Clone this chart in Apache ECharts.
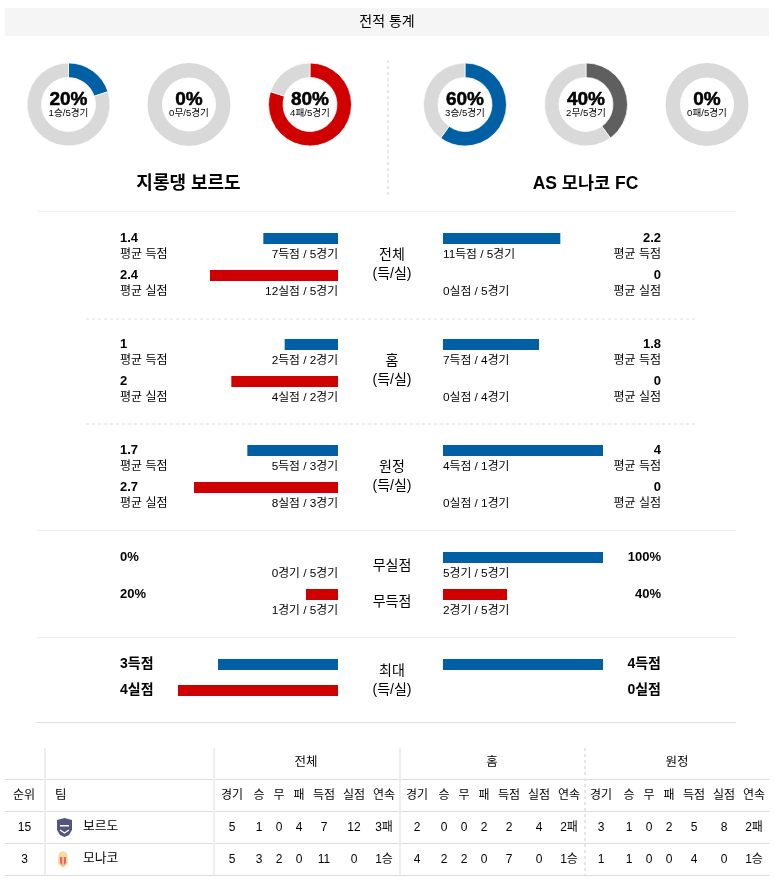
<!DOCTYPE html>
<html lang="ko">
<head>
<meta charset="utf-8">
<style>html,body{margin:0;padding:0;background:#fff}#c{width:778px;height:886px}</style>
<script src="https://cdn.jsdelivr.net/npm/echarts@6/dist/echarts.min.js"></script>
</head>
<body>
<div id="c"></div>
<script>
// ---- data ----
const pageTitle = '전적 통계';
const teamNames = ['지롱댕 보르도', 'AS 모나코 FC'];
const donutPct = [20, 0, 80, 60, 40, 0];
const donutSub = ['1승/5경기', '0무/5경기', '4패/5경기', '3승/5경기', '2무/5경기', '0패/5경기'];
const donutKinds = ['win', 'draw', 'loss', 'win', 'draw', 'loss'];

const blockNames = [['전체', '(득/실)'], ['홈', '(득/실)'], ['원정', '(득/실)'], ['무실점', '무득점'], ['최대', '(득/실)']];
const blockMax = [3, 3, 3, 100, 4];
const leftValues = [[1.4, 2.4], [1, 2], [1.7, 2.7], [0, 20], [3, 4]];
const rightValues = [[2.2, 0], [1.8, 0], [4, 0], [100, 40], [4, 0]];
const leftHead = [['1.4', '2.4'], ['1', '2'], ['1.7', '2.7'], ['0%', '20%'], ['3득점', '4실점']];
const rightHead = [['2.2', '0'], ['1.8', '0'], ['4', '0'], ['100%', '40%'], ['4득점', '0실점']];
const leftNote = [['7득점 / 5경기', '12실점 / 5경기'], ['2득점 / 2경기', '4실점 / 2경기'], ['5득점 / 3경기', '8실점 / 3경기'], ['0경기 / 5경기', '1경기 / 5경기']];
const rightNote = [['11득점 / 5경기', '0실점 / 5경기'], ['7득점 / 4경기', '0실점 / 4경기'], ['4득점 / 1경기', '0실점 / 1경기'], ['5경기 / 5경기', '2경기 / 5경기']];
const avgLabels = ['평균 득점', '평균 실점'];

const tableGroups = ['전체', '홈', '원정'];
const tableCols = ['경기', '승', '무', '패', '득점', '실점', '연속'];
const tableHeadLeft = ['순위', '팀'];
const tableRanks = ['15', '3'];
const tableTeams = ['보르도', '모나코'];
const tableRows = [
  [5, 1, 0, 4, 7, 12, '3패', 2, 0, 0, 2, 2, 4, '2패', 3, 1, 0, 2, 5, 8, '2패'],
  [5, 3, 2, 0, 11, 0, '1승', 4, 2, 2, 0, 7, 0, '1승', 1, 1, 0, 0, 4, 0, '1승']
];

// ---- styling / layout ----
const BLUE = '#0060a3', RED = '#d00000', GREY = '#d9d9d9', DARK = '#5f5f5f';
const FONT = '"Liberation Sans","Noto Sans CJK KR",sans-serif';
const kindColor = { win: BLUE, draw: DARK, loss: RED };
const donutX = [68.5, 189, 310, 465, 586, 707], donutY = 104.5;
const barCY = [[238.5, 275.5], [344.5, 381.5], [450.5, 487.5], [557.5, 594.5], [664.5, 690.5]];
const blockLabelY = [[255, 274], [361, 380], [467, 486], [566, 602], [671, 690]];
const colX = [232, 259, 279, 299, 324, 354, 384, 417, 444, 464, 484, 509, 539, 569, 601, 629, 649, 669, 694, 724, 754];
const groupX = [306, 492, 677], rowY = [827.5, 859.5];

const graphic = [];
function txt(x, y, text, size, align, bold, extra) {
  graphic.push({
    type: 'text', silent: true, x, y,
    style: Object.assign({
      text, fill: '#000', align: align || 'left', verticalAlign: 'middle',
      font: (bold ? 'bold ' : '') + size + 'px ' + FONT
    }, extra || {})
  });
}
function hline(x1, x2, y, color, dash, w) {
  graphic.push({ type: 'line', silent: true, shape: { x1, y1: y, x2, y2: y },
    style: { stroke: color, lineWidth: w || 1, lineDash: dash || null } });
}
function vline(x, y1, y2, color, dash, w) {
  graphic.push({ type: 'line', silent: true, shape: { x1: x, y1, x2: x, y2 },
    style: { stroke: color, lineWidth: w || 1, lineDash: dash || null } });
}

// title bar
graphic.push({ type: 'rect', silent: true, shape: { x: 5, y: 8, width: 764, height: 28 }, style: { fill: '#f5f5f5' } });
txt(387, 22.5, pageTitle, 14, 'center');

// donut captions and team names
donutPct.forEach((p, i) => {
  txt(donutX[i], donutY - 5, p + '%', 19, 'center', true, { stroke: '#000', lineWidth: 0.5 });
  txt(donutX[i], donutY + 9, donutSub[i], 9.6, 'center');
});
txt(188.5, 184.5, teamNames[0], 18, 'center', true);
txt(585.5, 184.5, teamNames[1], 17.5, 'center', true);

// separators
vline(388, 60, 196, '#e8e8e8', [3, 3], 2);
hline(37, 736, 211.5, '#eeeeee', null, 1);
hline(86, 696, 319, '#eeeeee', [3, 3], 2);
hline(86, 696, 424, '#eeeeee', [3, 3], 2);
hline(37, 736, 530.5, '#eeeeee', null, 1);
hline(37, 736, 637.5, '#eeeeee', null, 1);
hline(37, 736, 722.5, '#dddddd', null, 1);

// comparison texts
barCY.forEach((ys, b) => {
  blockNames[b].forEach((n, k) => txt(392, blockLabelY[b][k] + 0.5, n, 14, 'center'));
  ys.forEach((cy, k) => {
    const headY = cy - 0.5;
    const headSize = b === 4 ? 14 : 13;
    txt(120, headY, leftHead[b][k], headSize, 'left', true);
    txt(661, headY, rightHead[b][k], headSize, 'right', true);
    if (b < 4) {
      txt(338, cy + 16, leftNote[b][k], 11.8, 'right');
      txt(443, cy + 16, rightNote[b][k], 11.8, 'left');
    }
    if (b < 3) {
      txt(120, cy + 16, avgLabels[k], 12, 'left');
      txt(661, cy + 16, avgLabels[k], 12, 'right');
    }
  });
});

// table lines
[779.5, 811.5, 843.5, 875.5].forEach(y => hline(5, 769, y, '#dddddd', null, 1));
[45, 214, 400].forEach(x => vline(x, 748, 875, '#eeeeee', null, 2));
vline(585, 748, 875, '#e6e6e6', [3, 3], 2);

// table text
tableGroups.forEach((g, i) => txt(groupX[i], 763, g, 12.5, 'center'));
txt(24, 796, tableHeadLeft[0], 12, 'center');
txt(55, 796, tableHeadLeft[1], 12.5, 'left');
colX.forEach((x, i) => txt(x, 796, tableCols[i % 7], 12, 'center'));
tableRows.forEach((row, r) => {
  txt(24.5, rowY[r], tableRanks[r], 12, 'center');
  txt(83, rowY[r] - 1, tableTeams[r], 12.8, 'left');
  row.forEach((v, i) => txt(colX[i], rowY[r], String(v), 12, 'center'));
});

// team crests
graphic.push({ type: 'polygon', silent: true, shape: { points: [[57, 820], [64.5, 818], [72, 820], [72, 830], [69, 835], [64.5, 837], [60, 835], [57, 830]] }, style: { fill: '#3f4272', opacity: 0.9 } });
graphic.push({ type: 'polyline', silent: true, shape: { points: [[60, 830], [64.5, 833], [69, 830]] }, style: { stroke: '#ffffff', lineWidth: 1.2, fill: null } });
graphic.push({ type: 'rect', silent: true, shape: { x: 60, y: 825, width: 9, height: 1.5 }, style: { fill: '#ffffff' } });
graphic.push({ type: 'polygon', silent: true, shape: { points: [[59, 853], [63, 851], [67, 853], [68, 858], [68, 864], [63, 868], [58, 864], [58, 858]] }, style: { fill: '#f4dca0' } });
graphic.push({ type: 'polygon', silent: true, shape: { points: [[60, 857], [66, 857], [66, 863], [63, 866], [60, 863]] }, style: { fill: '#de6a5f' } });
graphic.push({ type: 'rect', silent: true, shape: { x: 62.4, y: 857, width: 1.2, height: 8.5 }, style: { fill: '#ffe9d0' } });

// ---- series ----
const grids = [], xAxes = [], yAxes = [], series = [];
function addBars(side, b, values) {
  const g = grids.length;
  const band = barCY[b][1] - barCY[b][0];
  grids.push({ left: side === 'L' ? 178 : 443, width: 160, top: barCY[b][0] - band / 2, height: band * 2, containLabel: false });
  xAxes.push({ type: 'value', gridIndex: g, min: 0, max: blockMax[b], inverse: side === 'L', show: false });
  yAxes.push({ type: 'category', gridIndex: g, inverse: true, show: false, data: ['a', 'b'] });
  series.push({
    type: 'bar', xAxisIndex: g, yAxisIndex: g, barWidth: 11, clip: true, silent: true,
    data: values.map((v, k) => ({ value: v, itemStyle: { color: k === 0 ? BLUE : RED } }))
  });
}
leftValues.forEach((v, b) => addBars('L', b, v));
rightValues.forEach((v, b) => addBars('R', b, v));

donutPct.forEach((p, i) => {
  const data = [];
  if (p > 0) data.push({ value: p, itemStyle: { color: kindColor[donutKinds[i]] } });
  data.push({ value: 100 - p, itemStyle: { color: GREY } });
  series.push({
    type: 'pie', center: [donutX[i], donutY], radius: [27, 41.5], startAngle: 90, silent: true,
    label: { show: false }, labelLine: { show: false },
    itemStyle: { borderColor: '#fff', borderWidth: p > 0 ? 0.7 : 0 }, data
  });
});

const chart = echarts.init(document.getElementById('c'), null, { width: 778, height: 886, renderer: 'canvas' });
chart.setOption({
  backgroundColor: '#ffffff', animation: false, tooltip: { show: false },
  grid: grids, xAxis: xAxes, yAxis: yAxes, series,
  graphic: { elements: graphic }
});
</script>
</body>
</html>
